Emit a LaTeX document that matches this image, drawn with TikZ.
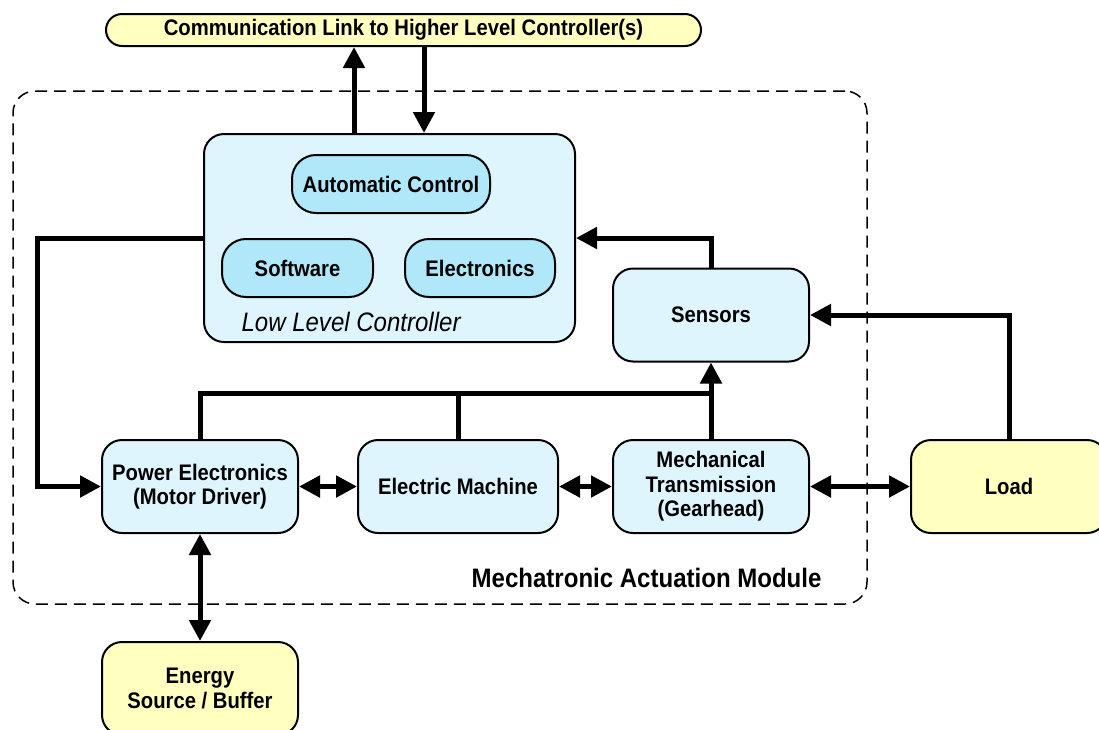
\documentclass[tikz,border=0pt]{standalone}
\usepackage{fontspec}
\setmainfont{Liberation Sans}[FakeStretch=0.9]
\usetikzlibrary{arrows.meta}

\definecolor{paleblue}{RGB}{223,245,254}
\definecolor{midblue}{RGB}{176,232,250}
\definecolor{paleyellow}{RGB}{255,255,192}

\tikzset{
  boxtext/.style={font=\bfseries\fontsize{22.5}{24.5}\selectfont},
  blockbox/.style={draw, line width=2pt, rounded corners=20pt, fill=paleblue,
    align=center, inner sep=0pt, minimum width=196pt, minimum height=93pt, boxtext},
  subbox/.style={draw, line width=2pt, rounded corners=24pt, fill=midblue,
    align=center, inner sep=0pt, minimum height=58pt, boxtext},
  yellowbox/.style={blockbox, fill=paleyellow},
  tip/.tip={Triangle[length=21pt,width=21pt]},
  flow/.style={line width=5pt, -tip},
  bothflow/.style={line width=5pt, tip-tip},
  bus/.style={line width=5pt},
  modulebox/.style={draw, dash pattern=on 12pt off 7pt, line width=1.5pt,
    rounded corners=22pt, inner sep=0pt, minimum width=854pt, minimum height=513pt},
}

\begin{document}
\begin{tikzpicture}[x=1pt,y=-1pt]
\useasboundingbox (0,0) rectangle (1099,729);

% module boundary
\node[modulebox] (module) at (440,347.5) {};
\node[anchor=base east, font=\bfseries\fontsize{26.7}{28}\selectfont] (modlabel) at (825,587) {Mechatronic Actuation Module};

% communication link
\node[draw, line width=2pt, fill=paleyellow, rounded corners=16pt, minimum width=595pt,
  minimum height=32pt, inner sep=0pt, boxtext] (comm) at (403.5,30) {Communication Link to Higher Level Controller(s)};

% low level controller
\node[blockbox, minimum width=371pt, minimum height=208pt] (llc) at (389.5,238) {};
\node[subbox, minimum width=198pt] (auto) at (391,184) {Automatic Control};
\node[subbox, minimum width=151pt] (soft) at (297.5,268) {Software};
\node[subbox, minimum width=150pt] (elec) at (480,268) {Electronics};
\node[anchor=base west, font=\itshape\fontsize{26.7}{28}\selectfont] (llclabel) at (238,331) {Low Level Controller};

% sensors and actuation chain
\node[blockbox] (sens) at (711,315) {Sensors};
\node[blockbox] (pe) at (200,486.5) {Power Electronics\\(Motor Driver)};
\node[blockbox, minimum width=200pt] (em) at (458,486.5) {Electric Machine};
\node[blockbox] (mt) at (711,486.5) {Mechanical\\Transmission\\(Gearhead)};
\node[yellowbox] (load) at (1009,486.5) {Load};
\node[yellowbox] (energy) at (200,688.5) {Energy\\Source / Buffer};

\coordinate (busy) at (0,393);

% communication with the higher level
\draw[flow] ([xshift=-35.5pt]llc.north) -- ([xshift=-35.5pt]llc.north |- comm.south);
\draw[flow] ([xshift=34.5pt]llc.north |- comm.south) -- ([xshift=34.5pt]llc.north);

% controller to power electronics
\draw[flow] (llc.west) -- ++(-166,0) |- (pe.west);

% sensor feedback
\draw[flow] (sens.north) |- (llc.east);
\draw[flow] (load.north) |- (sens.east);

% measurement bus
\draw[bus] (pe.north) -- (pe.north |- busy) -- (mt.north |- busy);
\draw[bus] (em.north) -- (em.north |- busy);
\draw[flow] (mt.north) -- (sens.south);

% power flow
\draw[bothflow] (pe.east) -- (em.west);
\draw[bothflow] (em.east) -- (mt.west);
\draw[bothflow] (mt.east) -- (load.west);
\draw[bothflow] (pe.south) -- (energy.north);
\end{tikzpicture}
\end{document}
